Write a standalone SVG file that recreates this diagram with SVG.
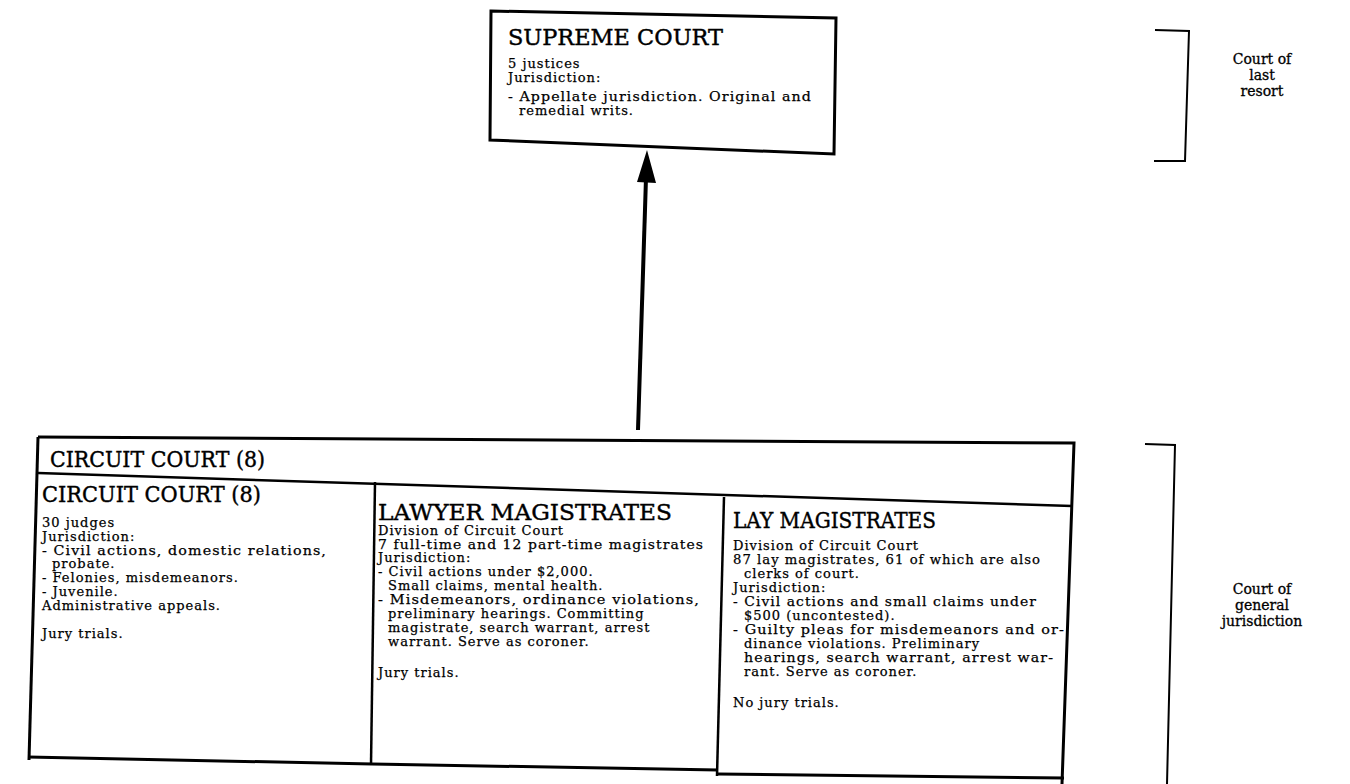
<svg xmlns="http://www.w3.org/2000/svg" width="1350" height="784" viewBox="0 0 1350 784">
<style>
.box{fill:none;stroke:#000;stroke-width:3;stroke-linejoin:miter}
.ln{fill:none;stroke:#000;stroke-width:2.5}
.br{fill:none;stroke:#000;stroke-width:2}
text{font-family:"DejaVu Serif","Liberation Serif",serif;fill:#000;stroke:#000}
.h{font-size:22px;stroke-width:0.4px}
.b{font-size:13px;letter-spacing:1px;stroke-width:0.25px}
.s{font-size:14px;text-anchor:middle;stroke-width:0.3px}
</style>
<rect width="1350" height="784" fill="#fff"/>
<g id="supreme-court">
<polygon class="box" points="491,11 836,18 834,154 490,140"/>
<text class="h" x="508" y="45" textLength="215" lengthAdjust="spacingAndGlyphs">SUPREME COURT</text>
<text class="b" x="508" y="68">5 justices</text>
<text class="b" x="508" y="82">Jurisdiction:</text>
<text class="b" x="508" y="101" textLength="304" lengthAdjust="spacingAndGlyphs">- Appellate jurisdiction. Original and</text>
<text class="b" x="519" y="115">remedial writs.</text>
</g>
<g id="label-last-resort">
<polyline class="br" points="1155,30 1189,31 1185,161 1154,161"/>
<text class="s" x="1262" y="64">Court of</text>
<text class="s" x="1262" y="80">last</text>
<text class="s" x="1262" y="96">resort</text>
</g>
<g id="circuit-court-outer">
<polyline class="box" points="38,437 1074,443 1062,784"/>
<polyline class="box" points="38,437 29,760"/>
<line class="ln" x1="38" y1="473" x2="1072" y2="506"/>
<text class="h" x="50" y="467" textLength="215" lengthAdjust="spacingAndGlyphs">CIRCUIT COURT (8)</text>
</g>
<g id="circuit-court">
<line class="ln" x1="375" y1="482" x2="371" y2="765"/>
<line class="box" x1="28" y1="757" x2="372" y2="764"/>
<text class="h" x="42" y="502" textLength="219" lengthAdjust="spacingAndGlyphs">CIRCUIT COURT (8)</text>
<text class="b" x="42" y="527">30 judges</text>
<text class="b" x="42" y="541">Jurisdiction:</text>
<text class="b" x="42" y="555" textLength="285" lengthAdjust="spacingAndGlyphs">- Civil actions, domestic relations,</text>
<text class="b" x="52" y="568">probate.</text>
<text class="b" x="42" y="582">- Felonies, misdemeanors.</text>
<text class="b" x="42" y="596">- Juvenile.</text>
<text class="b" x="42" y="610">Administrative appeals.</text>
<text class="b" x="42" y="638">Jury trials.</text>
</g>
<g id="lawyer-magistrates">
<line class="ln" x1="724" y1="497" x2="717" y2="776"/>
<line class="box" x1="372" y1="764" x2="718" y2="770"/>
<text class="h" x="378" y="520" textLength="294" lengthAdjust="spacingAndGlyphs">LAWYER MAGISTRATES</text>
<text class="b" x="378" y="535">Division of Circuit Court</text>
<text class="b" x="378" y="549" textLength="326" lengthAdjust="spacingAndGlyphs">7 full-time and 12 part-time magistrates</text>
<text class="b" x="378" y="562">Jurisdiction:</text>
<text class="b" x="378" y="576">- Civil actions under $2,000.</text>
<text class="b" x="388" y="590">Small claims, mental health.</text>
<text class="b" x="378" y="604" textLength="322" lengthAdjust="spacingAndGlyphs">- Misdemeanors, ordinance violations,</text>
<text class="b" x="388" y="618">preliminary hearings. Committing</text>
<text class="b" x="388" y="632">magistrate, search warrant, arrest</text>
<text class="b" x="388" y="646">warrant. Serve as coroner.</text>
<text class="b" x="378" y="677">Jury trials.</text>
</g>
<g id="lay-magistrates">
<line class="box" x1="718" y1="774" x2="1064" y2="778"/>
<text class="h" x="733" y="528" textLength="203" lengthAdjust="spacingAndGlyphs">LAY MAGISTRATES</text>
<text class="b" x="733" y="550">Division of Circuit Court</text>
<text class="b" x="733" y="564" textLength="308" lengthAdjust="spacingAndGlyphs">87 lay magistrates, 61 of which are also</text>
<text class="b" x="744" y="578">clerks of court.</text>
<text class="b" x="733" y="592">Jurisdiction:</text>
<text class="b" x="733" y="606" textLength="304" lengthAdjust="spacingAndGlyphs">- Civil actions and small claims under</text>
<text class="b" x="744" y="620">$500 (uncontested).</text>
<text class="b" x="733" y="634" textLength="332" lengthAdjust="spacingAndGlyphs">- Guilty pleas for misdemeanors and or-</text>
<text class="b" x="744" y="648">dinance violations. Preliminary</text>
<text class="b" x="744" y="662" textLength="310" lengthAdjust="spacingAndGlyphs">hearings, search warrant, arrest war-</text>
<text class="b" x="744" y="676">rant. Serve as coroner.</text>
<text class="b" x="733" y="707">No jury trials.</text>
</g>
<g id="label-general">
<polyline class="br" points="1145,444 1175,445 1167,784"/>
<text class="s" x="1262" y="594">Court of</text>
<text class="s" x="1262" y="610">general</text>
<text class="s" x="1262" y="626">jurisdiction</text>
</g>
<g id="connectors">
<line x1="638" y1="430" x2="646" y2="178" stroke="#000" stroke-width="4"/>
<polygon points="647,150 656,183 637,182" fill="#000"/>
</g>
</svg>
